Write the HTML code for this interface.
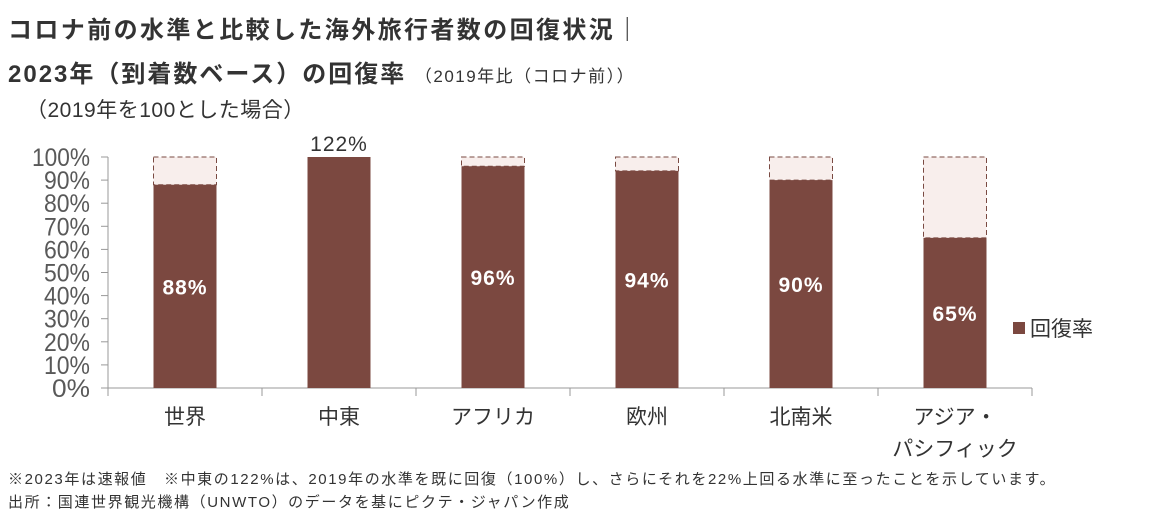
<!DOCTYPE html>
<html><head><meta charset="utf-8"><style>
body{margin:0;width:1169px;height:531px;background:#fff;overflow:hidden;font-family:"Liberation Sans","Noto Sans CJK JP",sans-serif;color:#333}
.t{position:absolute;white-space:nowrap}
</style></head><body>
<div class="t" style="left:8px;top:10px;font-size:24px;font-weight:bold;color:#333;letter-spacing:2.4px;font-family:'Noto Sans CJK JP',sans-serif">コロナ前の水準と比較した海外旅行者数の回復状況｜</div>
<div class="t" style="left:8px;top:54px;font-size:24px;font-weight:bold;color:#333;letter-spacing:2px;font-family:'Liberation Sans','Noto Sans CJK JP',sans-serif">2023年（到着数ベース）の回復率 <span style="font-size:17px;font-weight:normal;letter-spacing:1.5px">（2019年比（コロナ前））</span></div>
<div class="t" style="left:26px;top:94px;font-size:21px;color:#333;letter-spacing:0.5px">（2019年を100とした場合）</div>
<svg id="c" width="1169" height="531" style="position:absolute;left:0;top:0"></svg>
<div class="t" style="left:8px;top:468px;font-size:15px;letter-spacing:1.6px">※2023年は速報値　※中東の122%は、2019年の水準を既に回復（100%）し、さらにそれを22%上回る水準に至ったことを示しています。</div>
<div class="t" style="left:8px;top:491px;font-size:15px;letter-spacing:1.6px">出所：国連世界観光機構（UNWTO）のデータを基にピクテ・ジャパン作成</div>
<script>
const categories=["世界","中東","アフリカ","欧州","北南米","アジア・\nパシフィック"];
const values=[88,122,96,94,90,65];
const ticks=[0,10,20,30,40,50,60,70,80,90,100];
const svg=document.getElementById('c');const NS='http://www.w3.org/2000/svg';
const x0=108,step=154,y0=388,y100=157,bw=63;
const y=v=>y0-(Math.min(v,100))*(y0-y100)/100;
function mk(t,a){const e=document.createElementNS(NS,t);for(const k in a)e.setAttribute(k,a[k]);svg.appendChild(e);return e;}
let ax=mk('line',{x1:x0,y1:y100,x2:x0,y2:y0,stroke:'#999'});


let xa=mk('line',{x1:x0,y1:y0,x2:x0+step*6,y2:y0,stroke:'#999'});


ticks.forEach(t=>{const l=mk('line',{x1:x0-7,x2:x0,y1:y(t),y2:y(t),stroke:'#999'});


const tx=mk('text',{x:x0-18,y:y(t)+9,'text-anchor':'end','font-size':25,fill:'#595959','font-family':'Liberation Sans, sans-serif',textLength:t==100?58:(t==0?38:46),lengthAdjust:'spacingAndGlyphs'});tx.textContent=t+'%';

});
for(let i=0;i<=6;i++){const l=mk('line',{x1:x0+i*step,x2:x0+i*step,y1:y0,y2:y0+8,stroke:'#999'});

}
categories.forEach((c,i)=>{const cx=x0+step*(i+0.5),v=values[i];
if(v<100){const r=mk('rect',{x:cx-bw/2,y:y(100),width:bw,height:y(v)-y(100),fill:'#f8eeec',stroke:'#7a4a42','stroke-dasharray':'5,3','stroke-width':1});

}
const b=mk('rect',{x:cx-bw/2,y:y(v),width:bw,height:y0-y(v),fill:'#7b4840'});


const lb=mk('text',{x:cx,y:v>100?y(100)-6:(y(v)+y0)/2+8,'text-anchor':'middle','font-size':21,'font-weight':v>100?'normal':'bold',fill:v>100?'#333':'#fff','font-family':'Liberation Sans, sans-serif','letter-spacing':1});lb.textContent=v+'%';


c.split('\n').forEach((s,j)=>{const t=mk('text',{x:cx,y:424+j*32,'text-anchor':'middle','font-size':21,fill:'#333','font-family':'Liberation Sans, Noto Sans CJK JP, sans-serif'});t.textContent=s;

});});
const ls=mk('rect',{x:1013,y:322,width:12,height:12,fill:'#7b4840'});


const lt=mk('text',{x:1030,y:336,'font-size':21,fill:'#333','font-family':'Noto Sans CJK JP, sans-serif'});lt.textContent='回復率';


</script>
</body></html>
